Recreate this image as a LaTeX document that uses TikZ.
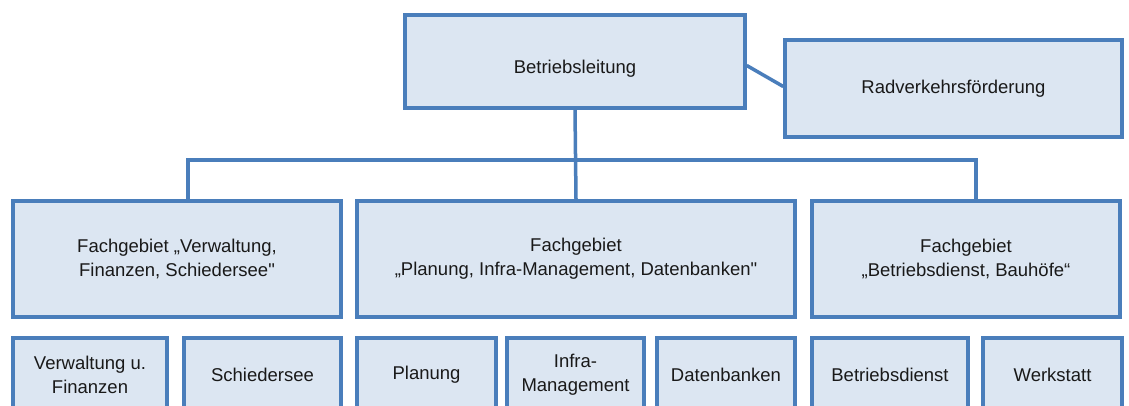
\documentclass[tikz,border=0pt]{standalone}
\usepackage{fontspec}
\setmainfont{Liberation Sans}
\newfontfamily\plainq{Liberation Sans}[Ligatures=TeXOff]
\definecolor{bordc}{HTML}{4A7EBB}
\definecolor{fillc}{HTML}{DCE6F2}
\newcommand{\sq}{{\plainq "}}
\begin{document}
\begin{tikzpicture}[x=1pt,y=-1pt,
  box/.style={draw=bordc,fill=fillc,line width=3.5pt,rectangle,inner sep=2pt,align=center,
    font=\fontsize{18.5}{24}\selectfont,text=black!90},
  conn/.style={draw=bordc,line width=3.5pt}]
\useasboundingbox (0,0) rectangle (1129,405);
\clip (0,0) rectangle (1129,405);
\fill[white] (0,0) rectangle (1129,405);
\node[box,minimum width=340pt,minimum height=93pt] (bl) at (575,61.5) {\raisebox{-12pt}[0pt][0pt]{Betriebsleitung}};
\node[box,minimum width=337pt,minimum height=97pt] (rv) at (953.5,88.5) {Radverkehrsförderung};
\node[box,minimum width=328pt,minimum height=116pt] (fg1) at (177,259) {Fachgebiet „Verwaltung,\\Finanzen, Schiedersee\sq};
\node[box,minimum width=438pt,minimum height=116pt] (fg2) at (576,259) {Fachgebiet\\„Planung, Infra-Management, Datenbanken\sq};
\node[box,minimum width=308pt,minimum height=116pt] (fg3) at (966,259) {Fachgebiet\\„Betriebsdienst, Bauhöfe“};
\node[box,minimum width=154pt,minimum height=74pt] (b1) at (90,375) {Verwaltung u.\\Finanzen};
\node[box,minimum width=157pt,minimum height=74pt] (b2) at (262.5,375) {Schiedersee};
\node[box,minimum width=139pt,minimum height=74pt] (b3) at (426.5,375) {Planung};
\node[box,minimum width=137pt,minimum height=74pt] (b4) at (575.5,375) {Infra-\\Management};
\node[box,minimum width=138pt,minimum height=74pt] (b5) at (726,375) {Datenbanken};
\node[box,minimum width=156pt,minimum height=74pt] (b6) at (890,375) {Betriebsdienst};
\node[box,minimum width=139pt,minimum height=74pt] (b7) at (1052.5,375) {Werkstatt};
\coordinate (busL) at (188,160);
\coordinate (busR) at (976,160);
\draw[conn] ([yshift=-4pt]bl.east) -- ([yshift=2pt]rv.west);
\draw[conn] (bl.south) -- (fg2.north);
\draw[conn,line cap=rect] (fg1.north -| busL) -- (busL) -- (busR) -- (fg3.north -| busR);
\end{tikzpicture}
\end{document}
